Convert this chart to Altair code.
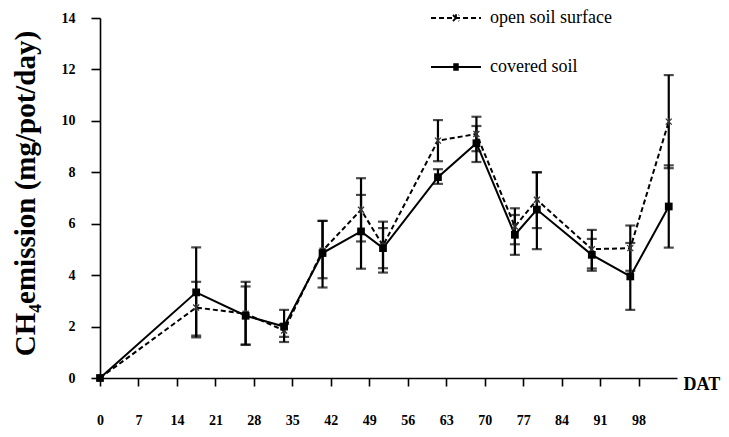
import altair as alt
import pandas as pd

# ---- data ----
days = [0, 17.5, 26.5, 33.5, 40.5, 47.5, 51.5, 61.5, 68.5, 75.5, 79.5, 89.5, 96.5, 103.5]
open_mean = [0, 2.74, 2.50, 1.85, 4.95, 6.54, 5.15, 9.23, 9.49, 5.89, 6.93, 5.01, 5.05, 9.97]
open_lo = [0, 1.65, 1.30, 1.60, 3.88, 5.31, 4.10, 8.43, 8.82, 5.20, 5.83, 4.26, 4.17, 8.16]
open_hi = [0, 3.74, 3.74, 2.10, 6.11, 7.77, 6.08, 10.03, 10.16, 6.60, 8.00, 5.76, 5.93, 11.78]
cov_mean = [0, 3.33, 2.42, 2.00, 4.86, 5.70, 5.05, 7.81, 9.13, 5.57, 6.55, 4.79, 3.95, 6.67]
cov_lo = [0, 1.58, 1.29, 1.40, 3.52, 4.25, 4.27, 7.55, 8.40, 4.79, 5.01, 4.17, 2.65, 5.07]
cov_hi = [0, 5.08, 3.56, 2.65, 6.11, 7.12, 5.83, 8.12, 9.80, 6.34, 8.00, 5.41, 5.25, 8.27]

x_ticks = [0, 7, 14, 21, 28, 35, 42, 49, 56, 63, 70, 77, 84, 91, 98]
y_ticks = [0, 2, 4, 6, 8, 10, 12, 14]
series_names = ["open soil surface", "covered soil"]
y_title = "CH₄emission  (mg/pot/day)"

rows = []
for name, m, lo, hi in [
    (series_names[0], open_mean, open_lo, open_hi),
    (series_names[1], cov_mean, cov_lo, cov_hi),
]:
    for d, a, b, c in zip(days, m, lo, hi):
        rows.append({"day": d, "value": a, "lo": b, "hi": c, "series": name})
df = pd.DataFrame(rows)

FONT = "Liberation Serif"
STAR = "M-1,-1L1,1M-1,1L1,-1M0,-1.2L0,1.2"
SQUARE = "M-1,-1L1,-1L1,1L-1,1Z"
# legend glyphs: a line with the series marker at its middle (stroke-only paths)
LEG_OPEN = "M-1,0L1,0M-0.12,-0.12L0.12,0.12M-0.12,0.12L0.12,-0.12M0,-0.15L0,0.15"
LEG_COV = (
    "M-1,0L1,0"
    "M-0.11,-0.11L0.11,-0.11M-0.11,-0.055L0.11,-0.055"
    "M-0.11,0.055L0.11,0.055M-0.11,0.11L0.11,0.11"
)

x_scale = alt.Scale(domain=[0, 105], nice=False, zero=False)
y_scale = alt.Scale(domain=[0, 14], nice=False)

x_enc = alt.X(
    "day:Q",
    scale=x_scale,
    title="DAT",
    axis=alt.Axis(
        values=x_ticks,
        titleX=583,
        titleY=6,
        titleAlign="left",
        titleBaseline="middle",
        titleAngle=0,
        titleFont=FONT,
        titleFontSize=18,
        titleFontWeight="bold",
        labelFont=FONT,
        labelFontSize=14,
        labelFontWeight="bold",
        labelPadding=27,
        tickSize=8,
        labelFlush=False,
    ),
)
y_enc = alt.Y(
    "value:Q",
    scale=y_scale,
    title=y_title,
    axis=alt.Axis(
        values=y_ticks,
        titleX=-75,
        titleY=175,
        titleAnchor="middle",
        titleBaseline="middle",
        titleFont=FONT,
        titleFontSize=29,
        titleFontWeight="bold",
        labelFont=FONT,
        labelFontSize=14,
        labelFontWeight="bold",
        labelPadding=16,
        tickSize=9,
    ),
)

base = alt.Chart(df)
xq = alt.X("day:Q", scale=x_scale, title="DAT")
yq = alt.Y("value:Q", scale=y_scale, title=y_title)

line_open = (
    base.transform_filter(f"datum.series == '{series_names[0]}'")
    .mark_line(color="black", strokeWidth=2, strokeDash=[5, 3])
    .encode(x=x_enc, y=y_enc)
)
line_cov = (
    base.transform_filter(f"datum.series == '{series_names[1]}'")
    .mark_line(color="black", strokeWidth=2)
    .encode(x=xq, y=yq)
)

err = (
    base.transform_filter("datum.day > 0")
    .mark_errorbar(ticks=True, size=10, thickness=2.2, color="black")
    .encode(
        x=xq,
        y=alt.Y("lo:Q", scale=y_scale, title=y_title),
        y2="hi:Q",
        detail="series:N",
    )
)

pts_open = (
    base.transform_filter(f"datum.series == '{series_names[0]}'")
    .mark_point(shape=STAR, size=36, stroke="#333333", strokeWidth=1.3, filled=False, opacity=1)
    .encode(x=xq, y=yq)
)
pts_cov = (
    base.transform_filter(f"datum.series == '{series_names[1]}'")
    .mark_point(shape=SQUARE, size=60, color="black", filled=True, opacity=1)
    .encode(x=xq, y=yq)
)

leg_common = dict(
    title=None,
    orient="none",
    legendX=330,
    legendY=-26,
    symbolSize=2500,
    symbolStrokeWidth=1.8,
    symbolStrokeColor="black",
    labelFont=FONT,
    labelFontSize=18,
    labelColor="black",
    labelOffset=8,
    rowPadding=14,
)

legend_layer = (
    base.transform_filter("false")
    .mark_point(color="black", stroke="black", strokeWidth=1.8, opacity=1, filled=False)
    .encode(
        x=xq,
        y=yq,
        shape=alt.Shape(
            "series:N",
            scale=alt.Scale(domain=series_names, range=[LEG_OPEN, LEG_COV]),
            legend=alt.Legend(**leg_common),
        ),
        strokeDash=alt.StrokeDash(
            "series:N",
            scale=alt.Scale(domain=series_names, range=[[5, 3], [1, 0]]),
            legend=alt.Legend(**leg_common),
        ),
    )
)

chart = (
    alt.layer(line_open, line_cov, err, pts_open, pts_cov, legend_layer)
    .properties(
        width=577,
        height=360,
        autosize=alt.AutoSizeParams(type="none"),
        padding={"left": 92, "top": 10, "right": 44, "bottom": 50},
        background="white",
    )
    .configure_view(stroke=None)
    .configure_axis(
        grid=False,
        domainColor="black",
        domainWidth=1.6,
        tickColor="black",
        tickWidth=1.6,
        labelColor="black",
        titleColor="black",
    )
)

chart.save("out.html", embed_options={"renderer": "svg", "actions": False})
